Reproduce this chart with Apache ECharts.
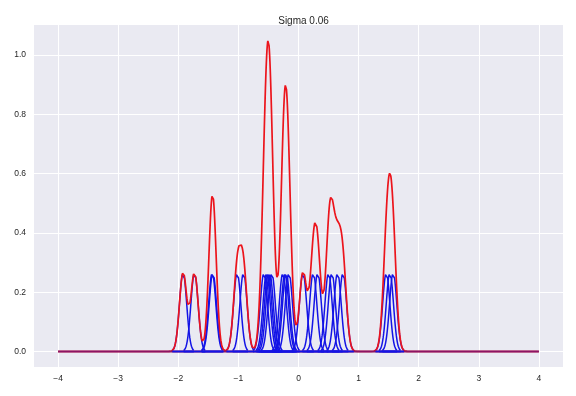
<!DOCTYPE html>
<html>
<head>
<meta charset="utf-8">
<script src="https://cdn.jsdelivr.net/npm/echarts@6/dist/echarts.min.js"></script>
<style>html,body{margin:0;padding:0;background:#fff}#c{width:576px;height:396px}</style>
</head>
<body>
<div id="c"></div>
<script>
// Sample points (kernel centres)
const samples = [-1.92, -1.73, -1.435, -1.425, -1.02, -0.915,
  -0.575, -0.53, -0.505, -0.48, -0.445,
  -0.26, -0.225, -0.205, -0.16,
  0.075, 0.245, 0.32,
  0.50, 0.555, 0.65, 0.74,
  1.46, 1.52, 1.575];
const sigma = 0.06;
const xTicks = [-4, -3, -2, -1, 0, 1, 2, 3, 4];
const yTicks = [0.0, 0.2, 0.4, 0.6, 0.8, 1.0];
const titleText = 'Sigma 0.06';

const n = samples.length;
const norm = 1 / (n * sigma * Math.sqrt(2 * Math.PI));
function kern(x, c) { return norm * Math.exp(-((x - c) * (x - c)) / (2 * sigma * sigma)); }

const series = [];
// blue kernels
samples.forEach(c => {
  const pts = [];
  const steps = 80;
  for (let i = 0; i <= steps; i++) {
    const x = c - 3 * sigma + 6 * sigma * i / steps;
    pts.push([x, kern(x, c)]);
  }
  series.push({type: 'line', data: pts, showSymbol: false, symbol: 'none', z: 2,
    lineStyle: {color: '#1414e6', width: 1.5}, silent: true, animation: false});
});
// red sum
const red = [];
const N = 1600;
for (let i = 0; i <= N; i++) {
  const x = -4 + 8 * i / N;
  let s = 0;
  samples.forEach(c => s += kern(x, c));
  red.push([x, s]);
}
series.push({type: 'line', data: red, showSymbol: false, symbol: 'none', z: 3,
  lineStyle: {color: '#ec141c', width: 1.7}, silent: true, animation: false});
// purple baseline
series.push({type: 'line', data: [[-4, 0], [4, 0]], showSymbol: false, symbol: 'none', z: 4,
  lineStyle: {color: '#8c1464', width: 1.8}, silent: true, animation: false});
// blue kernel tails on top at baseline
samples.forEach(c => {
  series.push({type: 'line', data: [[c - 3 * sigma, 0], [c + 3 * sigma, 0]], showSymbol: false, symbol: 'none', z: 5,
    lineStyle: {color: '#1414e6', width: 1.8}, silent: true, animation: false});
});

const font = 'Liberation Sans, Arial, sans-serif';
const chart = echarts.init(document.getElementById('c'), null, {renderer: 'canvas'});
chart.setOption({
  animation: false,
  backgroundColor: '#ffffff',
  title: {text: titleText, left: 298.5, textAlign: 'center', top: 11,
    textStyle: {fontFamily: font, fontSize: 10, fontWeight: 'normal', color: '#262626'}},
  grid: {left: 34, right: 13, top: 25, bottom: 29, show: true, backgroundColor: '#eaeaf2', borderWidth: 0},
  xAxis: {type: 'value', min: -4.4, max: 4.4,
    axisLine: {show: false},
    axisTick: {show: false, customValues: xTicks},
    axisLabel: {customValues: xTicks, fontFamily: font, fontSize: 8.5, color: '#262626', margin: 7,
      formatter: v => (v < 0 ? '\u2212' + Math.abs(v) : String(v))},
    splitLine: {show: true, lineStyle: {color: '#ffffff', width: 1}}},
  yAxis: {type: 'value', min: -0.0523, max: 1.101,
    axisLine: {show: false},
    axisTick: {show: false, customValues: yTicks},
    axisLabel: {customValues: yTicks, fontFamily: font, fontSize: 8.5, color: '#262626', margin: 8,
      formatter: v => v.toFixed(1)},
    splitLine: {show: true, lineStyle: {color: '#ffffff', width: 1}}},
  series: series
});
</script>
</body>
</html>
